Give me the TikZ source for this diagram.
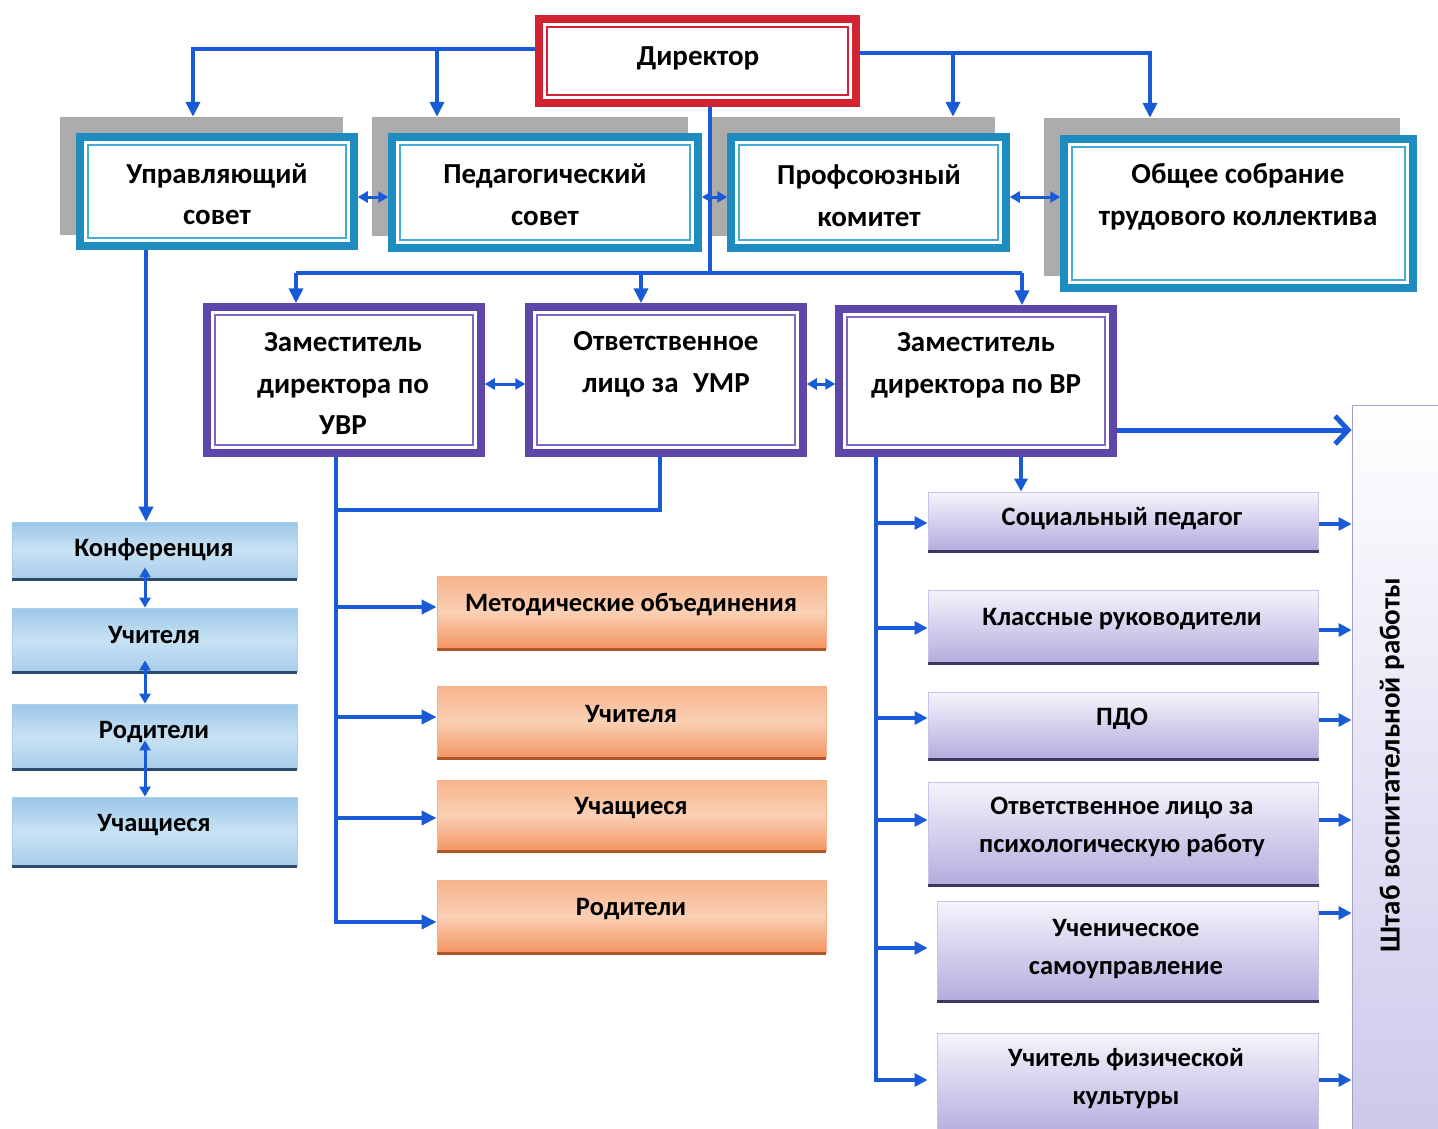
\documentclass[tikz,border=0pt]{standalone}
\usepackage{fontspec}
\setmainfont{Carlito}
\usetikzlibrary{calc,arrows.meta}
\definecolor{cblue}{RGB}{25,90,215}
\definecolor{cred}{RGB}{210,35,50}
\definecolor{cteal}{RGB}{30,140,190}
\definecolor{cteal2}{RGB}{70,170,215}
\definecolor{cpurp}{RGB}{95,70,170}
\definecolor{cpurp2}{RGB}{125,105,195}
\definecolor{cshadow}{RGB}{172,172,172}
\definecolor{bltop}{RGB}{155,198,232}
\definecolor{blmid}{RGB}{200,226,244}
\definecolor{blbot}{RGB}{170,205,235}
\definecolor{bledge}{RGB}{45,75,110}
\definecolor{ortop}{RGB}{247,180,140}
\definecolor{ormid}{RGB}{250,208,180}
\definecolor{orbot}{RGB}{243,150,100}
\definecolor{oredge}{RGB}{175,85,40}
\definecolor{pltop}{RGB}{246,244,252}
\definecolor{plbot}{RGB}{182,172,222}
\definecolor{pledge}{RGB}{60,55,95}
\definecolor{plline}{RGB}{200,195,232}
\newcommand\innerframe[3]{\draw[#2, line width=2.2pt] ($(#1.north west)+(#3,#3)$) rectangle ($(#1.south east)+(-#3,-#3)$);}
\newcommand\botline[2]{\draw[#2, line width=3pt] ($(#1.south west)+(0,1)$) -- ($(#1.south east)+(0,1)$);}
\begin{document}
\begin{tikzpicture}[x=1pt,y=-1pt,
  frame/.style={draw=#1, line width=7.5pt, fill=white, inner sep=0pt},
  shadowbox/.style={fill=cshadow, inner sep=0pt},
  bluebox/.style={draw=blbot, line width=0.8pt, top color=bltop, bottom color=blbot, middle color=blmid, inner sep=0pt, minimum width=285pt},
  orbox/.style={draw=ortop, line width=0.8pt, top color=ortop, bottom color=orbot, middle color=ormid, inner sep=0pt, minimum width=389pt},
  plbox/.style={draw=plline, line width=1pt, top color=pltop, bottom color=plbot, inner sep=0pt},
  txt/.style={inner sep=0pt, align=center, font=\bfseries\fontsize{29}{41.5}\selectfont},
  txts/.style={inner sep=0pt, align=center, font=\bfseries\fontsize{26.5}{38}\selectfont},
  line/.style={draw=cblue, line width=4pt},
  conn/.style={draw=cblue, line width=4pt, -{Triangle[length=15pt,width=14pt]}},
  conn2/.style={draw=cblue, line width=3.2pt, -{Triangle[length=13pt,width=13pt]}},
  bi/.style={draw=cblue, line width=3pt, {Triangle[length=10pt,width=11pt]}-{Triangle[length=10pt,width=11pt]}},
  bigarrow/.style={draw=cblue, line width=5pt, -{Straight Barb[length=13pt,width=28pt]}}]
\useasboundingbox (0,0) rectangle (1438,1128);
\fill[white] (0,0) rectangle (1438,1128);

% shadows
\node[shadowbox, minimum width=283pt, minimum height=118pt] (ussh) at (201.5,176) {};
\node[shadowbox, minimum width=316pt, minimum height=119pt] (pssh) at (530,176.5) {};
\node[shadowbox, minimum width=283pt, minimum height=119pt] (pksh) at (853.5,176.5) {};
\node[shadowbox, minimum width=356pt, minimum height=158pt] (ossh) at (1222,197) {};

% director
\node[frame=cred, minimum width=317pt, minimum height=84pt] (dir) at (697.5,61) {};
\innerframe{dir}{cred}{12}
\node[txt] (tdir) at (698,58) {Директор};

% top row
\node[frame=cteal, minimum width=274pt, minimum height=109pt] (us) at (217,191.5) {};
\innerframe{us}{cteal2}{12}
\node[frame=cteal, minimum width=306pt, minimum height=111pt] (ps) at (545,192.5) {};
\innerframe{ps}{cteal2}{12}
\node[frame=cteal, minimum width=275pt, minimum height=111pt] (pk) at (868.5,192.5) {};
\innerframe{pk}{cteal2}{12}
\node[frame=cteal, minimum width=349pt, minimum height=149pt] (os) at (1238.5,213.5) {};
\innerframe{os}{cteal2}{12}
\node[txt] (tus) at (217,194) {Управляющий\\совет};
\node[txt] (tps) at (545,194.5) {Педагогический\\совет};
\node[txt] (tpk) at (869,195.5) {Профсоюзный\\комитет};
\node[txt] (tos) at (1238,197) {Общее собрание\\трудового коллектива};

% middle row
\node[frame=cpurp, minimum width=274pt, minimum height=146pt] (zuvr) at (344,380) {};
\innerframe{zuvr}{cpurp2}{12}
\node[frame=cpurp, minimum width=274pt, minimum height=146pt] (umr) at (666,380) {};
\innerframe{umr}{cpurp2}{12}
\node[frame=cpurp, minimum width=274pt, minimum height=144pt] (zvr) at (976,381) {};
\innerframe{zvr}{cpurp2}{12}
\node[txt] (tzuvr) at (343,384) {Заместитель\\директора по\\УВР};
\node[txt] (tumr) at (666,364.5) {Ответственное\\лицо за\enspace УМР};
\node[txt] (tzvr) at (976,365.5) {Заместитель\\директора по ВР};

% left column
\node[bluebox, minimum height=56pt] (konf) at (154.5,550) {};
\botline{konf}{bledge}
\node[bluebox, minimum height=63pt] (uch1) at (154.5,639.5) {};
\botline{uch1}{bledge}
\node[bluebox, minimum height=64pt] (rod1) at (154.5,736) {};
\botline{rod1}{bledge}
\node[bluebox, minimum height=68pt] (uchsh1) at (154.5,831) {};
\botline{uchsh1}{bledge}
\node[txts] (tkonf) at (154,550) {Конференция};
\node[txts] (tuch1) at (154,635) {Учителя};
\node[txts] (trod1) at (154,732) {Родители};
\node[txts] (tuchsh1) at (154,825) {Учащиеся};

% orange column
\node[orbox, minimum height=72pt] (mo) at (631.5,612) {};
\botline{mo}{oredge}
\node[orbox, minimum height=71pt] (uch2) at (631.5,721.5) {};
\botline{uch2}{oredge}
\node[orbox, minimum height=70pt] (uchsh2) at (631.5,815) {};
\botline{uchsh2}{oredge}
\node[orbox, minimum height=72pt] (rod2) at (631.5,916) {};
\botline{rod2}{oredge}
\node[txts] (tmo) at (631,604) {Методические объединения};
\node[txts] (tuch2) at (631,714) {Учителя};
\node[txts] (tuchsh2) at (631,808) {Учащиеся};
\node[txts] (trod2) at (631,909) {Родители};

% right column
\node[plbox, minimum width=390pt, minimum height=58pt] (sp) at (1123,521) {};
\botline{sp}{pledge}
\node[plbox, minimum width=390pt, minimum height=72pt] (kr) at (1123,626) {};
\botline{kr}{pledge}
\node[plbox, minimum width=390pt, minimum height=66pt] (pdo) at (1123,725) {};
\botline{pdo}{pledge}
\node[plbox, minimum width=390pt, minimum height=102pt] (ol) at (1123,833) {};
\botline{ol}{pledge}
\node[plbox, minimum width=381pt, minimum height=99pt] (us2) at (1127.5,950.5) {};
\botline{us2}{pledge}
\node[plbox, minimum width=381pt, minimum height=102pt] (uf) at (1127.5,1084) {};
\node[txts] (tsp) at (1122,519) {Социальный педагог};
\node[txts] (tkr) at (1122,619) {Классные руководители};
\node[txts] (tpdo) at (1122,719) {ПДО};
\node[txts] (tol) at (1122,827) {Ответственное лицо за\\психологическую работу};
\node[txts] (tus2) at (1126,948.5) {Ученическое\\самоуправление};
\node[txts] (tuf) at (1126,1079) {Учитель физической\\культуры};

% staff
\node[draw={rgb,255:red,160;green,160;blue,200}, line width=1pt, top color=white, bottom color={rgb,255:red,205;green,200;blue,235}, inner sep=0pt, minimum width=92pt, minimum height=730pt] (shtab) at (1398,770) {};
\node[txt, rotate=90] (tsh) at (1392,765) {Штаб воспитательной работы};

% ---- connectors ----
\coordinate (dl) at ($(dir.west)+(0,-12)$);
\coordinate (dr) at ($(dir.east)+(0,-8)$);
\coordinate (t1) at ($(ussh.north)+(-8.5,0)$);
\coordinate (t2) at ($(pssh.north)+(-93,0)$);
\coordinate (t3) at ($(pksh.north)+(99.5,0)$);
\coordinate (t4) at ($(ossh.north)+(-72,0)$);
\draw[conn] (dl) -| (t1);
\draw[conn] (t2|-dl) -- (t2);
\draw[conn] (dr) -| (t4);
\draw[conn] (t3|-dr) -- (t3);

% director down
\coordinate (d0) at ($(dir.south)+(12.5,0)$);
\coordinate (hb) at ($(dir.south)+(12.5,166)$);
\coordinate (a1) at ($(zuvr.north)+(-48,0)$);
\coordinate (a2) at ($(umr.north)+(-25,0)$);
\coordinate (a3) at ($(zvr.north)+(46,0)$);
\draw[line] (d0) -- (hb);
\draw[line] (a1|-hb) -- (a3|-hb);
\draw[conn] (a1|-hb) -- (a1);
\draw[conn] (a2|-hb) -- (a2);
\draw[conn] (a3|-hb) -- (a3);

% top row links
\draw[bi] ($(us.east)+(0,5.5)$) -- ($(ps.west)+(0,4.5)$);
\draw[bi] ($(ps.east)+(0,4.5)$) -- ($(pk.west)+(0,4.5)$);
\draw[bi] ($(pk.east)+(0,4.5)$) -- ($(os.west)+(0,-16.5)$);

% middle row links
\draw[bi] ($(zuvr.east)+(0,4)$) -- ($(umr.west)+(0,4)$);
\draw[bi] ($(umr.east)+(0,4)$) -- ($(zvr.west)+(0,3)$);

% governing council down
\coordinate (b0) at ($(us.south)+(-71,0)$);
\coordinate (b1) at ($(konf.north)+(-8.5,0)$);
\draw[conn] (b0) -- (b1);
\draw[bi] ($(konf.south)+(-9.5,-11)$) -- ($(uch1.north)+(-9.5,0)$);
\draw[bi] ($(uch1.south)+(-9.5,-11)$) -- ($(rod1.north)+(-9.5,0)$);
\draw[bi] ($(rod1.south)+(-9.5,-28)$) -- ($(uchsh1.north)+(-9.5,0)$);

% UVR down
\coordinate (c0) at ($(zuvr.south)+(-8,0)$);
\coordinate (m0) at ($(umr.south)+(-6,0)$);
\coordinate (m1) at ($(c0)+(0,53)$);
\coordinate (o1) at ($(mo.west)+(0,-5)$);
\coordinate (o2) at ($(uch2.west)+(0,-4.5)$);
\coordinate (o3) at ($(uchsh2.west)+(0,3)$);
\coordinate (o4) at ($(rod2.west)+(0,6)$);
\draw[line] (m0) |- (m1);
\draw[conn] (c0) |- (o4);
\draw[conn] (c0|-o1) -- (o1);
\draw[conn] (c0|-o2) -- (o2);
\draw[conn] (c0|-o3) -- (o3);

% VR down
\coordinate (v0) at ($(zvr.south)+(-100,0)$);
\coordinate (p1) at ($(sp.west)+(0,2)$);
\coordinate (p2) at ($(kr.west)+(0,2)$);
\coordinate (p3) at ($(pdo.west)+(0,-7)$);
\coordinate (p4) at ($(ol.west)+(0,-13)$);
\coordinate (p5) at ($(us2.west)+(-9,-2.5)$);
\coordinate (p6) at ($(uf.west)+(-9,-4)$);
\draw[conn2] (v0) |- (p6);
\draw[conn2] (v0|-p1) -- (p1);
\draw[conn2] (v0|-p2) -- (p2);
\draw[conn2] (v0|-p3) -- (p3);
\draw[conn2] (v0|-p4) -- (p4);
\draw[conn2] (v0|-p5) -- (p5);
\draw[conn2] ($(zvr.south)+(45,0)$) -- ($(sp.north)+(-102,0)$);
\draw[bigarrow] ($(zvr.east)+(0,49)$) -- ($(shtab.west)+(0,-340)$);

% to staff
\coordinate (r1) at ($(sp.east)+(0,3)$);
\coordinate (r2) at ($(kr.east)+(0,4)$);
\coordinate (r3) at ($(pdo.east)+(0,-5)$);
\coordinate (r4) at ($(ol.east)+(0,-13)$);
\coordinate (r5) at ($(us2.east)+(0,-37.5)$);
\coordinate (r6) at ($(uf.east)+(0,-4)$);
\draw[conn2] (r1) -- (shtab.west|-r1);
\draw[conn2] (r2) -- (shtab.west|-r2);
\draw[conn2] (r3) -- (shtab.west|-r3);
\draw[conn2] (r4) -- (shtab.west|-r4);
\draw[conn2] (r5) -- (shtab.west|-r5);
\draw[conn2] (r6) -- (shtab.west|-r6);
\end{tikzpicture}
\end{document}
